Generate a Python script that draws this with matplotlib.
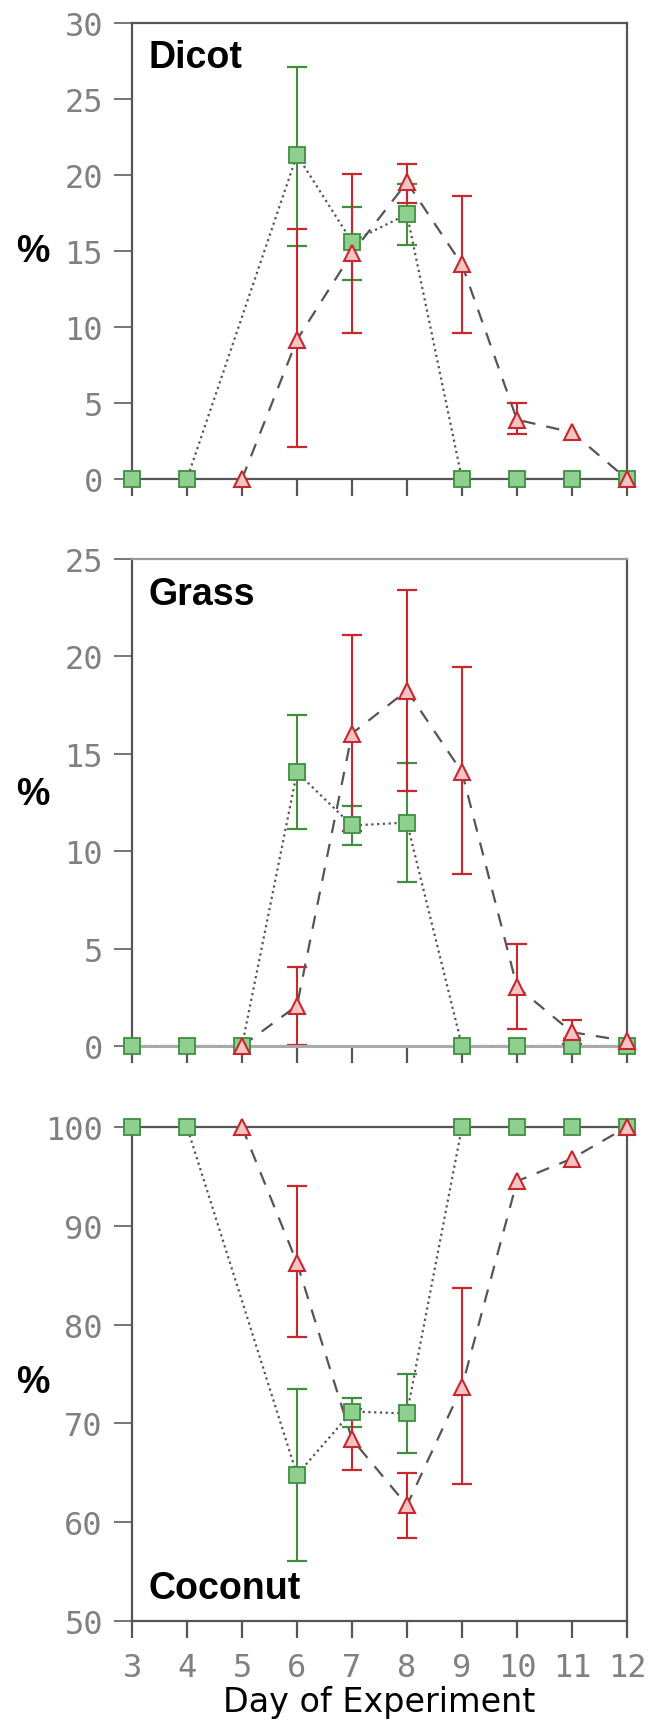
import matplotlib.pyplot as plt
import numpy as np

nan = np.nan

# Dicot
dicot_green_days = [3, 4, 6, 7, 8, 9, 10, 11, 12]
dicot_green = [0, 0, 21.3, 15.6, 17.4, 0, 0, 0, 0]
dicot_green_lo = [nan, nan, 6.0, 2.55, 2.0, nan, nan, nan, nan]
dicot_green_hi = [nan, nan, 5.75, 2.25, 2.0, nan, nan, nan, nan]
dicot_red_days = [5, 6, 7, 8, 9, 10, 11, 12]
dicot_red = [0, 9.15, 14.85, 19.5, 14.1, 3.9, 3.07, 0]
dicot_red_lo = [nan, 7.07, 5.22, 1.35, 4.5, 0.94, nan, nan]
dicot_red_hi = [nan, 7.27, 5.18, 1.22, 4.5, 1.07, nan, nan]

# Grass
grass_green_days = [3, 4, 5, 6, 7, 8, 9, 10, 11, 12]
grass_green = [0, 0, 0, 14.06, 11.32, 11.47, 0, 0, 0, 0]
grass_green_lo = [nan, nan, nan, 2.92, 0.99, 3.04, nan, nan, nan, nan]
grass_green_hi = [nan, nan, nan, 2.95, 0.99, 3.05, nan, nan, nan, nan]
grass_red_days = [5, 6, 7, 8, 9, 10, 11, 12]
grass_red = [0, 2.07, 16.04, 18.25, 14.06, 3.04, 0.71, 0.25]
grass_red_lo = [nan, 2.0, 5.0, 5.18, 5.24, 2.16, 0.6, nan]
grass_red_hi = [nan, 2.0, 5.04, 5.16, 5.42, 2.18, 0.6, nan]

# Coconut
coco_green_days = [3, 4, 6, 7, 8, 9, 10, 11, 12]
coco_green = [100, 100, 64.8, 71.2, 71.0, 100, 100, 100, 100]
coco_green_lo = [nan, nan, 8.75, 1.6, 4.0, nan, nan, nan, nan]
coco_green_hi = [nan, nan, 8.67, 1.4, 4.04, nan, nan, nan, nan]
coco_red_days = [5, 6, 7, 8, 9, 10, 11, 12]
coco_red = [100, 86.25, 68.4, 61.7, 73.7, 94.5, 96.8, 100]
coco_red_lo = [nan, 7.54, 3.13, 3.25, 9.8, nan, nan, nan]
coco_red_hi = [nan, 7.79, 3.1, 3.25, 9.96, nan, nan, nan]

days = list(range(3, 13))

GREEN_FACE = '#8fcf8f'
GREEN_EDGE = '#3f8f3f'
RED_FACE = '#f7c4c4'
RED_EDGE = '#c8282d'
LINE = '#555555'
SPINE = '#555555'
TICKC = '#6a6a6a'
LABELC = '#808080'


def panel(ax, gd, g, glo, ghi, rd, r, rlo, rhi, ylim, yticks, title, title_y, title_va, pct_y):
    ax.plot(gd, g, linestyle=(0, (1, 1.6)), color=LINE, lw=1.6, zorder=1)
    ax.plot(rd, r, linestyle=(0, (6, 5)), color=LINE, lw=1.6, zorder=1)
    ax.errorbar(gd, g, yerr=[glo, ghi], fmt='none', ecolor=GREEN_EDGE, elinewidth=1.5,
                capsize=7, capthick=1.6, zorder=2, clip_on=False)
    ax.errorbar(rd, r, yerr=[rlo, rhi], fmt='none', ecolor=RED_EDGE, elinewidth=1.5,
                capsize=7, capthick=1.6, zorder=2, clip_on=False)
    ax.plot(gd, g, 's', ms=11, mfc=GREEN_FACE, mec=GREEN_EDGE, mew=1.3, zorder=3, clip_on=False)
    ax.plot(rd, r, '^', ms=11, mfc=RED_FACE, mec=RED_EDGE, mew=1.5, zorder=4, clip_on=False)

    ax.set_xlim(3, 12)
    ax.set_ylim(*ylim)
    ax.set_xticks(days)
    ax.set_yticks(yticks)
    for s in ax.spines.values():
        s.set_color(SPINE)
        s.set_linewidth(1.6)
    ax.tick_params(axis='y', direction='out', length=13, width=1.3, color=TICKC, pad=8,
                   labelsize=23, labelcolor=LABELC)
    ax.tick_params(axis='x', direction='out', length=12, width=1.6, color=SPINE, pad=10,
                   labelsize=23, labelcolor=LABELC)
    for lab in ax.get_xticklabels() + ax.get_yticklabels():
        lab.set_family('DejaVu Sans Mono')
    ax.text(0.033, title_y, title, transform=ax.transAxes, ha='left', va=title_va,
            fontsize=27, fontweight='bold', family='Liberation Sans', color='black')
    ax.set_ylabel('%', rotation=0, fontsize=27, fontweight='bold', family='Liberation Sans',
                  va='center', ha='center')
    ax.yaxis.set_label_coords(-0.2, pct_y)


fig = plt.figure(figsize=(6.55, 17.33), dpi=100)
left, width = 0.2015, 0.7557
ax1 = fig.add_axes([left, 0.7230, width, 0.2634])
ax2 = fig.add_axes([left, 0.39585, width, 0.2810])
ax3 = fig.add_axes([left, 0.06405, width, 0.2851])

panel(ax1, dicot_green_days, dicot_green, dicot_green_lo, dicot_green_hi,
      dicot_red_days, dicot_red, dicot_red_lo, dicot_red_hi,
      (0, 30), [0, 5, 10, 15, 20, 25, 30], 'Dicot', 0.965, 'top', 0.5)
panel(ax2, grass_green_days, grass_green, grass_green_lo, grass_green_hi,
      grass_red_days, grass_red, grass_red_lo, grass_red_hi,
      (0, 25), [0, 5, 10, 15, 20, 25], 'Grass', 0.965, 'top', 0.517)
panel(ax3, coco_green_days, coco_green, coco_green_lo, coco_green_hi,
      coco_red_days, coco_red, coco_red_lo, coco_red_hi,
      (50, 100), [50, 60, 70, 80, 90, 100], 'Coconut', 0.03, 'bottom', 0.484)

for ax in (ax1, ax2):
    ax.tick_params(axis='x', labelbottom=False)
ax2.spines['top'].set_color('#999999')
ax2.spines['bottom'].set_color('#aaaaaa')
ax2.spines['bottom'].set_linewidth(2.2)

ax3.set_xlabel('Day of Experiment', fontsize=24, family='DejaVu Sans', labelpad=2)

fig.savefig('out.png', dpi=100)
